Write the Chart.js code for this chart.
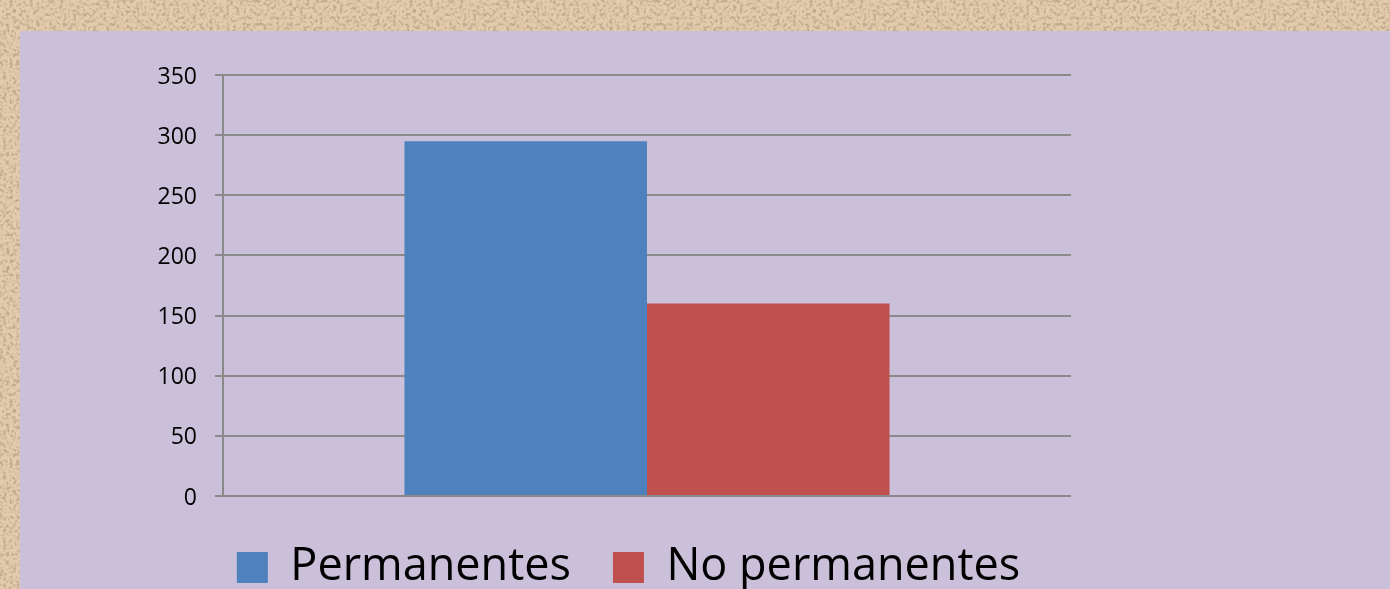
<!DOCTYPE html>
<html>
<head>
<meta charset="utf-8">
<script src="https://cdn.jsdelivr.net/npm/chart.js@4/dist/chart.umd.min.js"></script>
<style>
  html, body { margin: 0; padding: 0; width: 1390px; height: 589px; overflow: hidden; }
  body {
    position: relative;
    background-color: #e3cbab;
    background-image: url("data:image/svg+xml;utf8,<svg xmlns='http://www.w3.org/2000/svg' width='400' height='400'><filter id='n' x='0' y='0'><feTurbulence type='fractalNoise' baseFrequency='0.3' numOctaves='3' seed='4'/><feColorMatrix type='matrix' values='0 0 0 0 0.5 0 0 0 0 0.38 0 0 0 0 0.27 3.2 0 0 0 -1.45'/></filter><rect width='400' height='400' filter='url(%23n)'/></svg>");
  }
  #panel { position: absolute; left: 20px; top: 31px; right: 0; bottom: 0; background: #cac0da; }
  #c { position: absolute; left: 0; top: 0; }
</style>
</head>
<body>
<div id="panel"></div>
<canvas id="c" width="1390" height="620"></canvas>
<script>
const categories = [''];
const seriesNames = ['Permanentes', 'No permanentes'];
const permanentes = [295];
const noPermanentes = [160];
const yTickValues = [0, 50, 100, 150, 200, 250, 300, 350];
const seriesColors = ['#4f81bd', '#c0504d'];

new Chart(document.getElementById('c'), {
  type: 'bar',
  data: {
    labels: categories,
    datasets: [
      { label: seriesNames[0], data: permanentes, backgroundColor: seriesColors[0], borderWidth: 0, yAxisID: 'y' },
      { label: seriesNames[1], data: noPermanentes, backgroundColor: seriesColors[1], borderWidth: 0, yAxisID: 'y' }
    ]
  },
  options: {
    responsive: false,
    animation: false,
    events: [],
    categoryPercentage: 0.572,
    barPercentage: 1.0,
    layout: { padding: { left: 133, right: 266, top: 75, bottom: 20 } },
    plugins: {
      tooltip: { enabled: false },
      legend: {
        position: 'bottom',
        align: 'center',
        labels: {
          boxWidth: 31,
          boxHeight: 31,
          padding: 42,
          color: '#000000',
          font: { family: 'Open Sans', size: 45 }
        }
      }
    },
    scales: {
      x: {
        display: true,
        ticks: { display: false },
        grid: { display: false, drawTicks: false },
        border: { display: false },
        afterFit: (s) => { s.height = 7; }
      },
      y: {
        position: 'left',
        min: 0,
        max: 350,
        afterFit: (s) => { s.width = 90; },
        afterBuildTicks: (s) => { s.ticks = yTickValues.map(v => ({ value: v })); },
        ticks: {
          color: '#000000',
          padding: 18,
          labelOffset: 2,
          font: { family: 'Open Sans', size: 23 }
        },
        grid: { color: '#8a8a8a', lineWidth: 2, tickLength: 8, drawTicks: true },
        border: { display: true, color: '#8a8a8a', width: 2 }
      },
      yRight: {
        type: 'linear',
        axis: 'y',
        position: 'right',
        display: true,
        min: 0,
        max: 350,
        ticks: { display: false },
        grid: { display: false, drawTicks: false },
        border: { display: false },
        afterFit: (s) => { s.width = 53; }
      }
    }
  }
});
</script>
</body>
</html>
